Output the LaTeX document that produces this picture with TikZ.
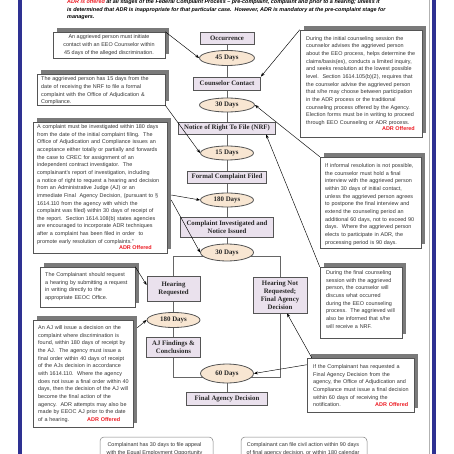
\documentclass[tikz,border=0pt]{standalone}
\usepackage{fontspec}
\setmainfont{Liberation Serif}
\setsansfont{Liberation Sans}
\usetikzlibrary{shapes.geometric,arrows.meta,shadows,backgrounds}
\definecolor{boxfill}{RGB}{234,225,237}
\definecolor{ellfill}{RGB}{248,230,210}
\definecolor{edge}{RGB}{85,85,85}
\definecolor{barblue}{RGB}{46,49,146}
\definecolor{adrred}{RGB}{237,28,36}
\newcommand{\adrmark}{\textcolor{adrred}{\bfseries ADR Offered}}
\begin{document}
\begin{tikzpicture}[x=1pt,y=-1pt,
  fbox/.style={draw=edge, line width=0.8pt, fill=boxfill, font=\fontsize{6.8}{7.8}\selectfont\bfseries, text=black!85, inner sep=0pt, align=center},
  day/.style={ellipse, draw=edge, line width=0.8pt, fill=ellfill, font=\fontsize{6.9}{8}\selectfont\bfseries, text=black!85, inner sep=0pt},
  callout/.style={draw=edge, line width=0.5pt, fill=white, inner sep=0pt, drop shadow={shadow xshift=4pt, shadow yshift=4pt, fill=black!52, opacity=1}},
  cfont/.style={font=\fontsize{5.45}{7.65}\selectfont\sffamily, text=black!80},
  ctext/.style={cfont, anchor=north west, inner sep=0pt, align=left},
  adrnode/.style={anchor=east, inner sep=0pt, font=\fontsize{5.45}{7.65}\selectfont\sffamily\bfseries, text=adrred},
  bottombox/.style={draw=black!50, line width=0.5pt, fill=white, rounded corners=4pt, inner sep=0pt},
  flow/.style={draw=black!60, line width=0.9pt},
  ptr/.style={draw=black, line width=0.45pt, -{Stealth[length=4pt,width=3pt]}},
]
\useasboundingbox (0,0) rectangle (454,454);
\clip (0,0) rectangle (454,454);

% central flow
\node[fbox, minimum width=54pt, minimum height=12pt] (occ) at (227,38) {Occurrence};
\node[day, minimum width=55pt, minimum height=15pt] (d45) at (227,58) {45 Days};
\node[fbox, minimum width=67pt, minimum height=13pt] (cc) at (227,83.5) {Counselor Contact};
\node[day, minimum width=55pt, minimum height=14pt] (d30a) at (227,105) {30 Days};
\node[fbox, minimum width=97pt, minimum height=12pt] (nrf) at (227,128) {Notice of Right To File (NRF)};
\node[day, minimum width=53pt, minimum height=14pt] (d15) at (227,153) {15 Days};
\node[fbox, minimum width=79pt, minimum height=12pt] (fcf) at (227,177) {Formal Complaint Filed};
\node[day, minimum width=53pt, minimum height=14pt] (d180) at (227,200) {180 Days};
\node[fbox, minimum width=93pt, minimum height=20pt] (cin) at (227,227) {Complaint Investigated and\\Notice Issued};
\node[day, minimum width=53pt, minimum height=17pt] (d30b) at (227,252.5) {30 Days};
\node[fbox, minimum width=53pt, minimum height=25pt] (hr) at (173.5,288.5) {Hearing\\Requested};
\node[day, minimum width=53pt, minimum height=15pt] (d180b) at (173.5,320) {180 Days};
\node[fbox, minimum width=54pt, minimum height=20pt] (ajf) at (173.5,347) {AJ Findings \&\\Conclusions};
\node[fbox, minimum width=54pt, minimum height=36pt] (hnr) at (280,295) {Hearing Not\\Requested;\\Final Agency\\Decision};
\node[day, minimum width=53pt, minimum height=19pt] (d60) at (227,373.5) {60 Days};
\node[fbox, minimum width=81pt, minimum height=13pt] (fad) at (227,398.5) {Final Agency Decision};

\coordinate (brL) at (173.5,256.5);
\coordinate (brR) at (280,256.5);
\coordinate (jL) at (173.5,377.5);
\coordinate (jC) at (227,377.5);
\coordinate (jR) at (280,377.5);

\begin{scope}[on background layer]
\fill[white] (0,0) rectangle (454,454);
\fill[barblue] (18,0) rectangle (22,454);
\fill[barblue] (432,0) rectangle (436,454);
\draw[black!30, line width=0.4pt] (429.5,0) -- (429.5,454);
\draw[flow] (occ) -- (d45) -- (cc) -- (d30a) -- (nrf) -- (d15) -- (fcf) -- (d180) -- (cin) -- (d30b);
\draw[flow] (hr) -- (brL) -- (brR) -- (hnr);
\draw[flow] (hr) -- (d180b) -- (ajf);
\draw[flow] (ajf) -- (jL) -- (jC) -- (jR) -- (hnr);
\draw[flow] (d60) -- (fad);
\end{scope}

% intro text
\node[anchor=north west, inner sep=0pt, align=left, font=\fontsize{5.45}{7.6}\selectfont\sffamily\bfseries\itshape] (intro) at (67,-0.6)
{\textcolor{adrred}{ADR is offered} at all stages of the Federal Complaint Process -- pre-complaint, complaint and prior to a hearing; unless it\\
is determined that ADR is inappropriate for that particular case.\ \ However, ADR is mandatory at the pre-complaint stage for\\
managers.};

% left callouts
\node[callout, cfont, align=center, minimum width=112pt, minimum height=26pt] (c1) at (109,45)
{An aggrieved person must initiate\\contact with an EEO Counselor within\\45 days of the alleged discrimination.};

\node[callout, minimum width=128pt, minimum height=31pt] (c2) at (101,89.5) {};
\node[ctext, text width=122pt] (c2t) at (41,76.6)
{The aggrieved person has 15 days from the\\
date of receiving the NRF to file a formal\\
complaint with the Office of Adjudication \&\\
Compliance.};

\node[callout, minimum width=134pt, minimum height=131pt] (c3) at (100,187.5) {};
\node[ctext, text width=126pt] (c3t) at (37,124.4)
{A complaint must be investigated within 180 days\\
from the date of the initial complaint filing.\ \ The\\
Office of Adjudication and Compliance issues an\\
acceptance either totally or partially and forwards\\
the case to CREC for assignment of an\\
independent contract investigator.\ \ The\\
complainant's report of investigation, including\\
a notice of right to request a hearing and decision\\
from an Administrative Judge (AJ) or an\\
immediate Final\ \ Agency Decision, (pursuant to \S\\
1614.110 from the agency with which the\\
complaint was filed) within 30 days of receipt of\\
the report.\ \ Section 1614.108(b) states agencies\\
are encouraged to incorporate ADR techniques\\
after a complaint has been filed in order\ \ to\\
promote early resolution of complaints."};
\node[adrnode] (c3adr) at (152,248) {ADR Offered};

\node[callout, minimum width=95pt, minimum height=40pt] (c4) at (87.5,287) {};
\node[ctext, text width=88pt] (c4t) at (45,272.4)
{The Complainant should request\\
a hearing by submitting a request\\
in writing directly to the\\
appropriate EEOC Office.};

\node[callout, minimum width=100pt, minimum height=107pt] (c5) at (83,373.5) {};
\node[ctext, text width=94pt] (c5t) at (38,325.4)
{An AJ will issue a decision on the\\
complaint where discrimination is\\
found, within 180 days of receipt by\\
the AJ.\ \ The agency must issue a\\
final order within 40 days of receipt\\
of the AJs decision in accordance\\
with 1614.110.\ \ Where the agency\\
does not issue a final order within 40\\
days, then the decision of the AJ will\\
become the final action of the\\
agency.\ \ ADR attempts may also be\\
made by EEOC AJ prior to the date\\
of a hearing.\hfill\adrmark\kern12pt};

% right callouts
\node[callout, minimum width=122pt, minimum height=107pt] (r1) at (361,83.5) {};
\node[ctext, text width=112pt] (r1t) at (306,36.1)
{During the initial counseling session the\\
counselor advises the aggrieved person\\
about the EEO process, helps determine the\\
claims/basis(es), conducts a limited inquiry,\\
and seeks resolution at the lowest possible\\
level.\ \ Section 1614.105(b)(2), requires that\\
the counselor advise the aggrieved person\\
that s/he may choose between participation\\
in the ADR process or the traditional\\
counseling process offered by the Agency.\\
Election forms must be in writing to proceed\\
through EEO Counseling or ADR process.};
\node[adrnode] (r1adr) at (415,129) {ADR Offered};

\node[callout, minimum width=101pt, minimum height=91pt] (r2) at (370.5,202.5) {};
\node[ctext, text width=94pt] (r2t) at (325,163.4)
{If informal resolution is not possible,\\
the counselor must hold a final\\
interview with the aggrieved person\\
within 30 days of initial contact,\\
unless the aggrieved person agrees\\
to postpone the final interview and\\
extend the counseling period an\\
additional 60 days, not to exceed 90\\
days.\ \ Where the aggrieved person\\
elects to participate in ADR, the\\
processing period is 90 days.};

\node[callout, minimum width=82pt, minimum height=71pt] (r3) at (361,302.5) {};
\node[ctext, text width=76pt] (r3t) at (326,270.4)
{During the final counseling\\
session with the aggrieved\\
person, the counselor will\\
discuss what occurred\\
during the EEO counseling\\
process.\ \ The aggrieved will\\
also be informed that s/he\\
will receive a NRF.};

\node[callout, minimum width=107pt, minimum height=54pt] (r4) at (360.5,385) {};
\node[ctext, text width=98pt] (r4t) at (313,364.4)
{If the Complainant has requested a\\
Final Agency Decision from the\\
agency, the Office of Adjudication and\\
Compliance must issue a final decision\\
within 60 days of receiving the\\
notification.\hfill\adrmark\kern3pt};

% bottom boxes
\node[bottombox, minimum width=113pt, minimum height=46pt] (b1) at (156.5,460) {};
\node[cfont, anchor=north, inner sep=0pt, align=center] (b1t) at (154.5,442.4)
{Complainant has 30 days to file appeal\\with the Equal Employment Opportunity};
\node[bottombox, minimum width=126pt, minimum height=46pt] (b2) at (304,460) {};
\node[cfont, anchor=north, inner sep=0pt, align=center] (b2t) at (303,442.4)
{Complainant can file civil action within 90 days\\of final agency decision, or within 180 calendar};

% pointers
\draw[ptr] (c1.north east) -- (d45.west);
\draw[ptr] (r1.north west) -- (cc.north east);
\draw[ptr] (r2.north west) -- (d30a.east);
\draw[ptr] (c2.south east) -- (d15.west);
\draw[ptr] (r3.north west) -- ([xshift=39pt]nrf.south);
\draw[ptr] ([xshift=4pt,yshift=-7.5pt]c3.east) -- (d180.west);
\draw[ptr] ([xshift=4pt,yshift=-12.5pt]c3.east) -- (d30b.west);
\draw[ptr] (c4.north east) -- ([yshift=3.5pt]hr.west);
\draw[ptr] ([xshift=4pt,yshift=-8pt]c5.north east) -- (d180b.west);
\draw[ptr] ([yshift=-7pt]r4.north west) -- (d60.east);
\draw[ptr] ([xshift=5pt]r4.north west) -- ([xshift=7pt]hnr.south);
\end{tikzpicture}
\end{document}
